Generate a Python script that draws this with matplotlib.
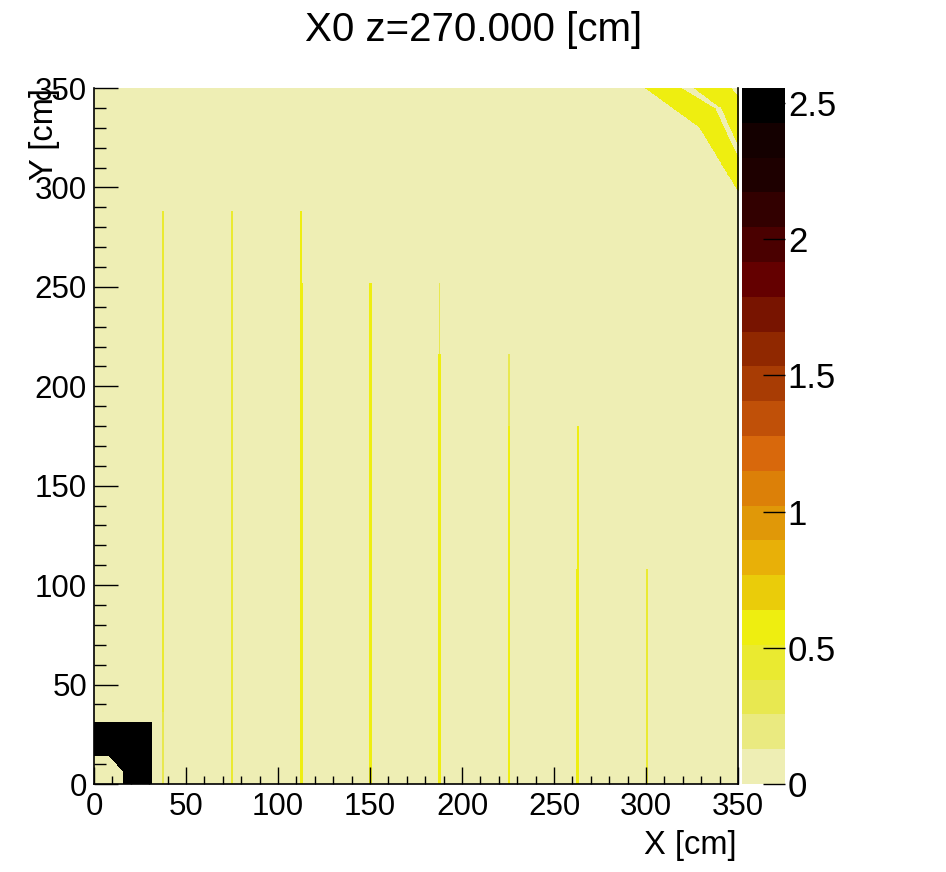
import numpy as np
import matplotlib
matplotlib.use("Agg")
import matplotlib.pyplot as plt
from matplotlib.colors import ListedColormap, BoundaryNorm
from matplotlib.path import Path

plt.rcParams["font.family"] = ["Liberation Sans", "DejaVu Sans"]

# vertical support lines: x position, top, split height, values and widths (cm)
line_x = [37.5, 75, 112.5, 150, 187.5, 225, 262.5, 300]
line_top = [288, 288, 288, 252, 252, 216, 180, 108]
line_split = [36, 0, 252, 0, 216, 180, 108, 0]
upper_val = [0.45, 0.5, 0.55, 0.6, 0.35, 0.35, 0.6, 0.4]
lower_val = [0.3, 0.5, 0.6, 0.6, 0.6, 0.55, 0.6, 0.4]
upper_w = [1.0, 1.2, 1.0, 1.4, 0.9, 0.9, 1.2, 1.0]
lower_w = [1.0, 1.2, 1.6, 1.4, 1.4, 1.2, 1.7, 1.0]

background_val = 0.05

# top-right yellow wall and its pale gaps
wall_poly = [(298, 350.5), (328.4, 330.2), (349.3, 298.3), (350.5, 298), (350.5, 350.5)]
wall_val = 0.6
gap_polys = [
    [(317.6, 350.5), (324.5, 350.5), (339.5, 340), (337.5, 339.5)],
    [(337, 340), (340, 340.5), (350.5, 319), (350.5, 313.5)],
    [(345, 350.5), (350.5, 350.5), (350.5, 345)],
]

# bottom-left dense block with its cut corner
block_poly = [(0, 0), (31.5, 0), (31.5, 31), (0, 31)]
block_val = 2.55
cut_poly = [(-1, -1), (16, -1), (16, 6), (8, 14), (-1, 14)]

z_max = 2.555
levels = np.linspace(0, z_max, 21)
colors = ["#EEEEB4", "#EAEA80", "#E8E850", "#EAEA30", "#EEEE10",
          "#EACC0A", "#E8B008", "#E09808", "#DC8008", "#D8680C",
          "#C05008", "#A83C04", "#902800", "#781400", "#640000",
          "#4A0000", "#320000", "#1E0000", "#140000", "#000000"]
cbar_ticks = [0, 0.5, 1, 1.5, 2, 2.5]

res = 0.25
xc = np.arange(0, 350, res) + res / 2
yc = np.arange(0, 350, res) + res / 2
XX, YY = np.meshgrid(xc, yc)
pts = np.column_stack([XX.ravel(), YY.ravel()])

Z = np.full(XX.shape, background_val)

for x0, top, split, uv, lv, uw, lw in zip(line_x, line_top, line_split,
                                          upper_val, lower_val, upper_w, lower_w):
    up = (np.abs(XX - x0) <= uw / 2) & (YY >= split) & (YY <= top)
    lo = (np.abs(XX - x0) <= lw / 2) & (YY < split)
    Z[up] = uv
    Z[lo] = lv

def fill(poly, val):
    m = Path(poly).contains_points(pts).reshape(XX.shape)
    Z[m] = val

fill(wall_poly, wall_val)
for g in gap_polys:
    fill(g, background_val)
fill(block_poly, block_val)
fill(cut_poly, background_val)

cmap = ListedColormap(colors)
cmap.set_over("#000000")
norm = BoundaryNorm(levels, cmap.N)

fig = plt.figure(figsize=(9.46, 8.72), dpi=100)
ax = fig.add_axes([94 / 946, 88 / 872, 644 / 946, 696 / 872])
im = ax.imshow(Z, origin="lower", extent=[0, 350, 0, 350], cmap=cmap,
               norm=norm, interpolation="nearest", aspect="auto")
ax.set_xlim(0, 350)
ax.set_ylim(0, 350)

ax.spines["top"].set_visible(False)
for s in ["left", "bottom", "right"]:
    ax.spines[s].set_linewidth(1.2)

ax.set_xticks(np.arange(0, 351, 50))
ax.set_yticks(np.arange(0, 351, 50))
ax.set_xticks(np.arange(0, 351, 10), minor=True)
ax.set_yticks(np.arange(0, 351, 10), minor=True)
ax.tick_params(axis="x", which="major", direction="in", length=12, width=1,
               labelsize=22.5, pad=6)
ax.tick_params(axis="x", which="minor", direction="in", length=6, width=1)
ax.tick_params(axis="y", which="major", direction="in", length=17, width=1,
               labelsize=22.5, pad=5)
ax.tick_params(axis="y", which="minor", direction="in", length=8.5, width=1)

cax = fig.add_axes([742 / 946, 88 / 872, 43 / 946, 696 / 872])
cb = fig.colorbar(im, cax=cax, ticks=cbar_ticks)
cb.outline.set_visible(False)
cb.ax.set_yticklabels(["0", "0.5", "1", "1.5", "2", "2.5"])
cax.tick_params(axis="y", direction="in", length=16, width=1, labelsize=25,
                pad=2, right=True, left=False)
cax.minorticks_off()

fig.text(474 / 946, 1 - 30 / 872, "X0 z=270.000 [cm]", ha="center",
         va="center", fontsize=29)
fig.text(737 / 946, 1 - 845 / 872, "X [cm]", ha="right", va="center",
         fontsize=23.5)
fig.text(45 / 946, 1 - 88 / 872, "Y [cm]", ha="center", va="top",
         rotation=90, fontsize=23.5)

fig.savefig("out.png", dpi=100)
